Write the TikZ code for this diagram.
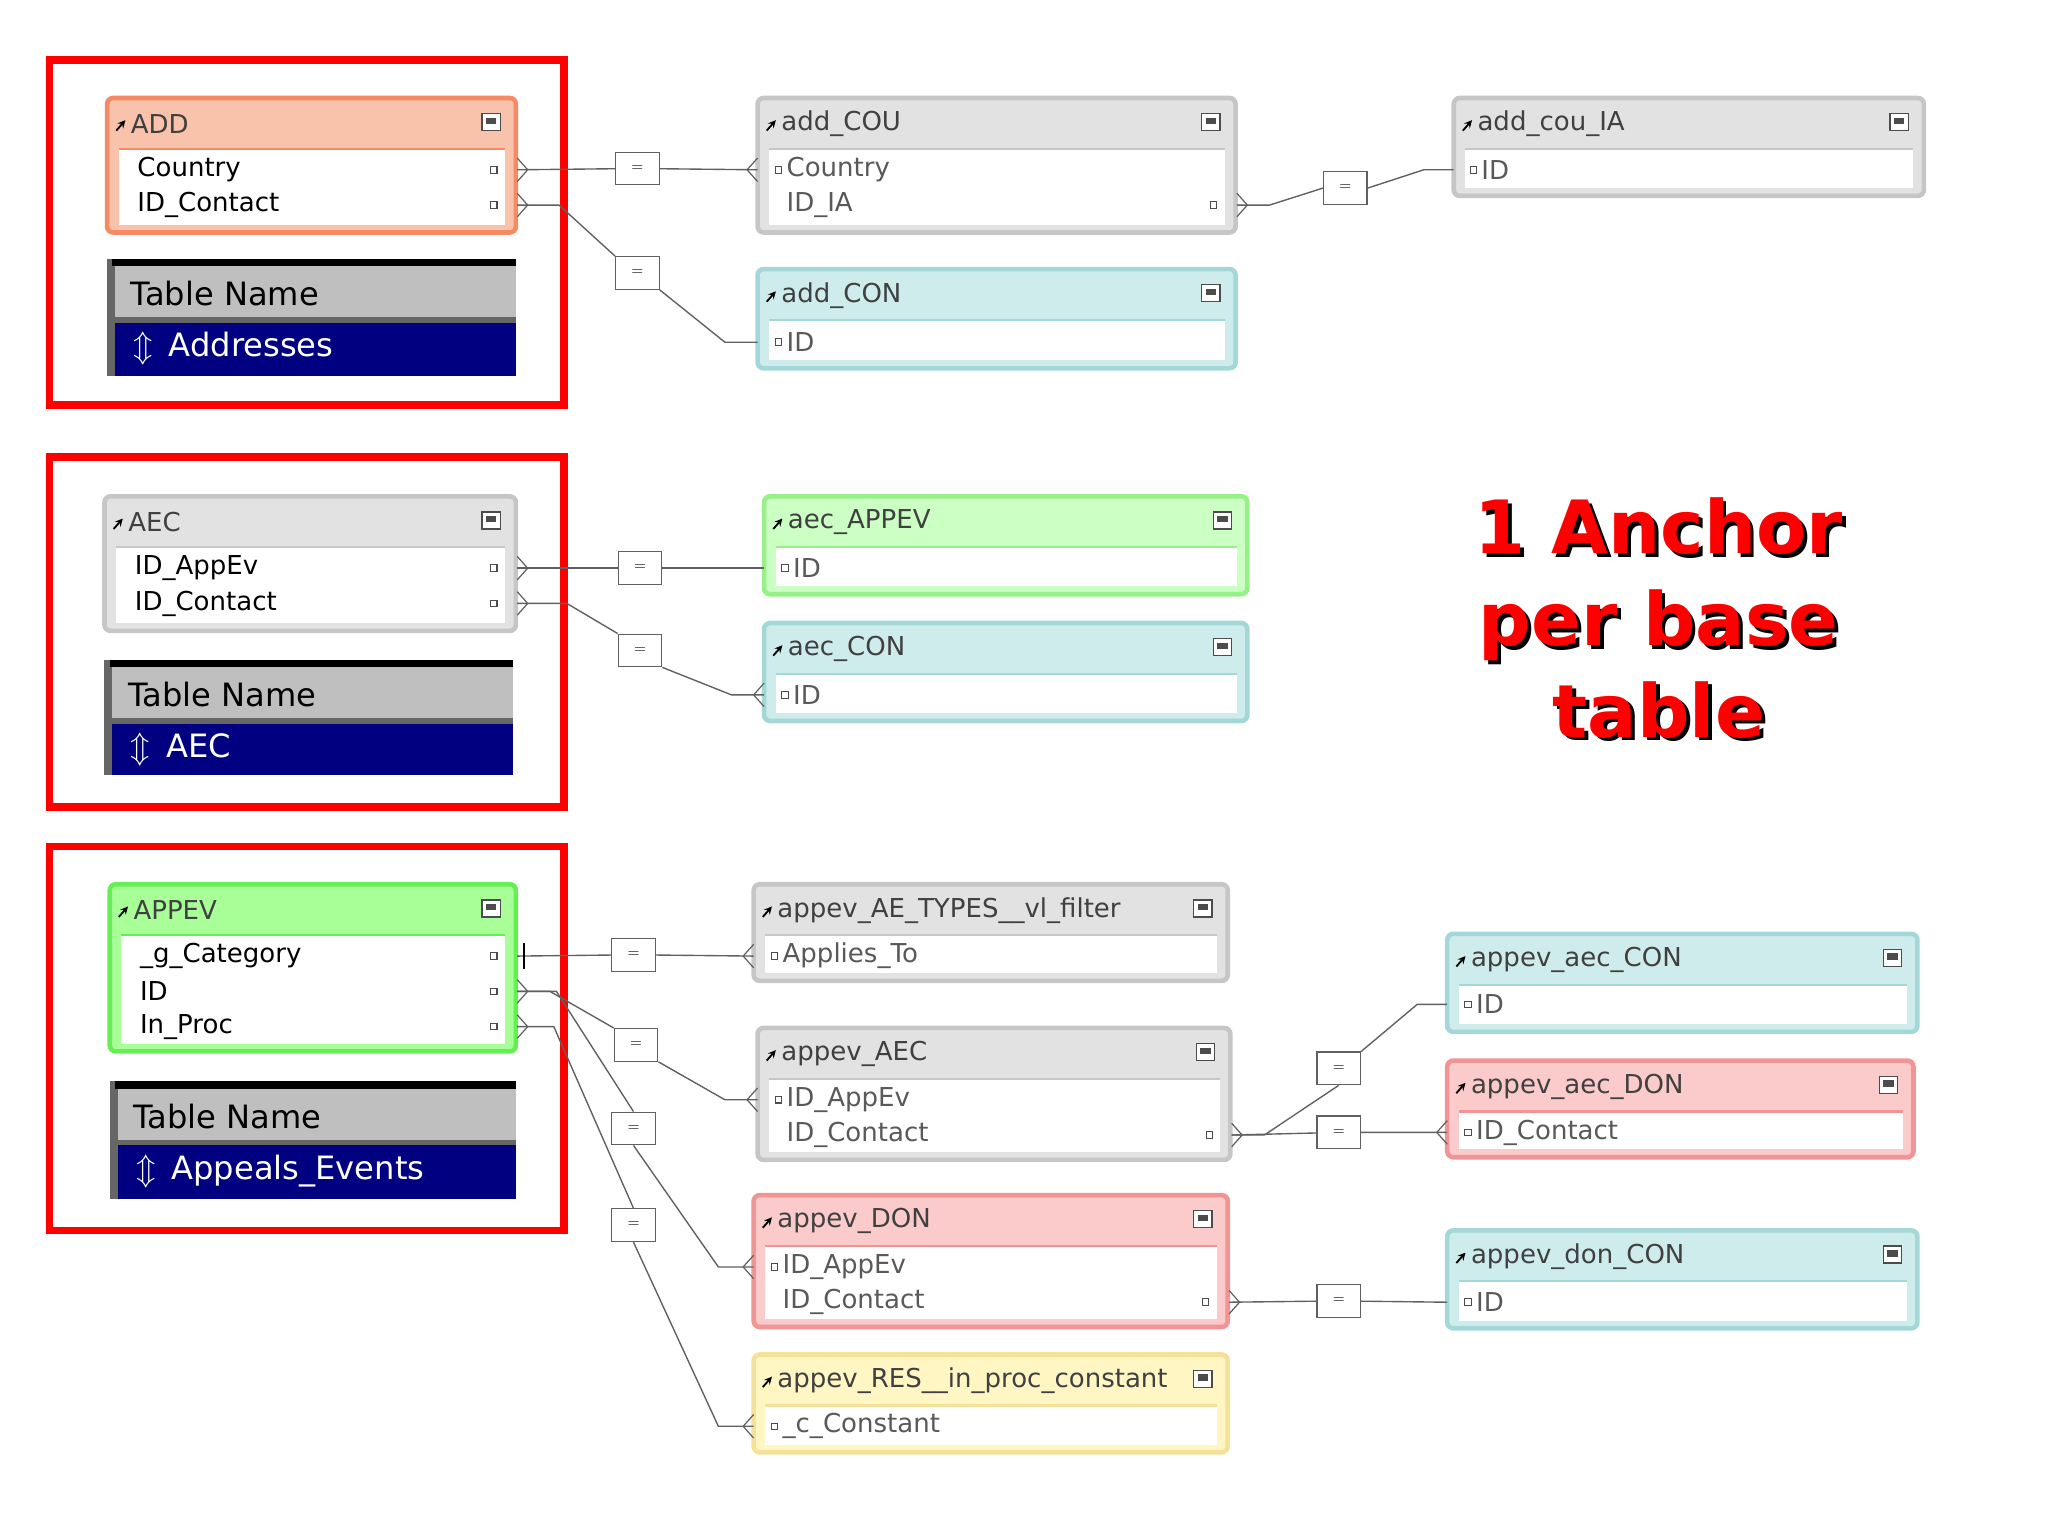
\documentclass[tikz,border=0pt]{standalone}
\usepackage{fontspec}
\setmainfont{DejaVu Sans}
\usetikzlibrary{fit,calc}
\definecolor{hSal}{HTML}{F9C2AA}\definecolor{bSal}{HTML}{F58A64}
\definecolor{hGry}{HTML}{E2E2E2}\definecolor{bGry}{HTML}{C6C6C6}
\definecolor{hTea}{HTML}{CFECEC}\definecolor{bTea}{HTML}{A4D8D8}
\definecolor{hGrn}{HTML}{CCFFC4}\definecolor{bGrn}{HTML}{98F088}
\definecolor{hGrB}{HTML}{A8FF98}\definecolor{bGrB}{HTML}{66EE55}
\definecolor{hPnk}{HTML}{FBCACA}\definecolor{bPnk}{HTML}{F09494}
\definecolor{hYel}{HTML}{FFF6C4}\definecolor{bYel}{HTML}{F4E29A}
\definecolor{navy}{HTML}{000080}\definecolor{lnk}{HTML}{606060}
\tikzset{
 tblbox/.style={inner sep=0pt,rounded corners=4pt,line width=3pt},
 ttl/.style={anchor=west,inner sep=0pt,font=\fontsize{17}{20}\selectfont,text=black!75},
 fldL/.style={anchor=west,inner sep=0pt,font=\fontsize{17}{20}\selectfont},
 fldR/.style={anchor=west,inner sep=0pt,font=\fontsize{17}{20}\selectfont,text=black!65},
 eqbox/.style={draw=lnk,fill=white,minimum width=1cm,minimum height=0.75cm,inner sep=0pt,line width=0.8pt},
 link/.style={draw=lnk,line width=0.9pt},
 redbox/.style={draw=red,line width=5pt},
}
% table: name, x1,y1,x2,y2, head colour, border colour, title
\newcommand\tbl[8]{%
 \node[tblbox,fill=#6,draw=#7,fit={(#2,#3) (#4,#5)}] (#1) {};
 \fill[white] (#2+9,#3+39) rectangle (#4-8,#5-6);
 \draw[#7,line width=1.5pt] (#2+9,#3+39) -- (#4-8,#3+39);
 \node[ttl] (#1t) at (#2+18,#3+20) {#8};
 \draw[black,line width=1.2pt,-stealth] (#2+7,#3+25) -- (#2+14,#3+17);
 \draw[black!70,fill=white,line width=0.8pt] (#4-26,#3+12) rectangle (#4-12,#3+25);
 \fill[black!70] (#4-23,#3+15) rectangle (#4-15,#3+20);
}
\newcommand\sq[2]{\draw[black!70,line width=0.7pt] (#1-2.5,#2-2.5) rectangle (#1+2.5,#2+2.5);}
\newcommand\tname[5]{% x1,y1,x2,y2,text
 \fill[black!60] (#1,#2) rectangle (#3,#4);
 \fill[black] (#1+4,#2) rectangle (#3,#2+6);
 \fill[black!25] (#1+6,#2+6) rectangle (#3,#2+45);
 \fill[navy] (#1+6,#2+49) rectangle (#3,#4);
 \node[anchor=west,inner sep=0pt,font=\fontsize{21}{24}\selectfont] at (#1+18,#2+27) {Table Name};
 \node[anchor=west,inner sep=0pt,font=\fontsize{21}{24}\selectfont,text=white] at (#1+20,#2+69) {$\Updownarrow$\hspace{0.5em}#5};
}
\begin{document}
\begin{tikzpicture}[x=0.03cm,y=-0.03cm]
\useasboundingbox (0,0) rectangle (1568,1176);
% red frames
\draw[redbox] (38,46) rectangle (432,310);
\draw[redbox] (38,350) rectangle (432,618);
\draw[redbox] (38,648) rectangle (432,942);
% ---------- tables
\tbl{ADD}{82}{75}{395}{178}{hSal}{bSal}{ADD}
\node[fldL] at (105,130) {Country}; \node[fldL] at (105,157) {ID\_Contact};
\sq{378}{130}\sq{378}{157}
\tname{82}{198}{395}{288}{Addresses}
\tbl{addCOU}{580}{75}{946}{178}{hGry}{bGry}{add\_COU}
\node[fldR] at (602,130) {Country}; \node[fldR] at (602,157) {ID\_IA}; \sq{596}{130}\sq{929}{157}
\tbl{addcouIA}{1113}{75}{1473}{150}{hGry}{bGry}{add\_cou\_IA}
\node[fldR] at (1134,130) {ID}; \sq{1128}{130}
\tbl{addCON}{580}{206}{946}{282}{hTea}{bTea}{add\_CON}
\node[fldR] at (602,262) {ID}; \sq{596}{262}

\tbl{AEC}{80}{380}{395}{483}{hGry}{bGry}{AEC}
\node[fldL] at (103,435) {ID\_AppEv}; \node[fldL] at (103,462) {ID\_Contact};
\sq{378}{435}\sq{378}{462}
\tname{80}{505}{393}{593}{AEC}
\tbl{aecAPPEV}{585}{380}{955}{455}{hGrn}{bGrn}{aec\_APPEV}
\node[fldR] at (607,435) {ID}; \sq{601}{435}
\tbl{aecCON}{585}{477}{955}{552}{hTea}{bTea}{aec\_CON}
\node[fldR] at (607,532) {ID}; \sq{601}{532}

\tbl{APPEV}{84}{677}{395}{805}{hGrB}{bGrB}{APPEV}
\node[fldL] at (107,732) {\_g\_Category}; \node[fldL] at (107,759) {ID}; \node[fldL] at (107,786) {In\_Proc};
\sq{378}{732}\sq{378}{759}\sq{378}{786}
\tname{84}{828}{395}{918}{Appeals\_Events}
\tbl{aeTypes}{577}{677}{940}{751}{hGry}{bGry}{appev\_AE\_TYPES\_\_vl\_filter}
\node[fldR] at (599,732) {Applies\_To}; \sq{593}{732}
\tbl{appevAEC}{580}{787}{942}{888}{hGry}{bGry}{appev\_AEC}
\node[fldR] at (602,842) {ID\_AppEv}; \node[fldR] at (602,869) {ID\_Contact}; \sq{596}{842}\sq{926}{869}
\tbl{appevDON}{577}{915}{940}{1016}{hPnk}{bPnk}{appev\_DON}
\node[fldR] at (599,970) {ID\_AppEv}; \node[fldR] at (599,997) {ID\_Contact}; \sq{593}{970}\sq{923}{997}
\tbl{appevRES}{577}{1037}{940}{1112}{hYel}{bYel}{appev\_RES\_\_in\_proc\_constant}
\node[fldR] at (599,1092) {\_c\_Constant}; \sq{593}{1092}
\tbl{aecCON2}{1108}{715}{1468}{790}{hTea}{bTea}{appev\_aec\_CON}
\node[fldR] at (1130,769) {ID}; \sq{1124}{769}
\tbl{aecDON}{1108}{812}{1465}{886}{hPnk}{bPnk}{appev\_aec\_DON}
\node[fldR] at (1130,867) {ID\_Contact}; \sq{1124}{867}
\tbl{donCON}{1108}{942}{1468}{1017}{hTea}{bTea}{appev\_don\_CON}
\node[fldR] at (1130,997) {ID}; \sq{1124}{997}
% ---------- link anchor coordinates
\coordinate (s1) at (396,130); \coordinate (t1) at (580,130);
\coordinate (s2) at (396,157); \coordinate (t2) at (580,262);
\coordinate (s3) at (947,157); \coordinate (t3) at (1113,130);
\coordinate (s4) at (396,435); \coordinate (t4) at (585,435);
\coordinate (s5) at (396,462); \coordinate (t5) at (585,532);
\coordinate (s6) at (396,732); \coordinate (t6) at (577,732);
\coordinate (s7) at (396,759); \coordinate (t7) at (580,842);
\coordinate (s8) at (396,759); \coordinate (t8) at (577,970);
\coordinate (s9) at (396,786); \coordinate (t9) at (577,1092);
\coordinate (s10) at (943,869); \coordinate (t10) at (1108,769);
\coordinate (s11) at (943,869); \coordinate (t11) at (1108,867);
\coordinate (s12) at (941,997); \coordinate (t12) at (1108,997);
% eq boxes
\node[eqbox] (e1) at (488,129) {$=$};
\node[eqbox] (e2) at (488,209) {$=$};
\node[eqbox] (e3) at (1030,144) {$=$};
\node[eqbox] (e4) at (490,435) {$=$};
\node[eqbox] (e5) at (490,498) {$=$};
\node[eqbox] (e6) at (485,731) {$=$};
\node[eqbox] (e7) at (487,800) {$=$};
\node[eqbox] (e8) at (485,864) {$=$};
\node[eqbox] (e9) at (485,938) {$=$};
\node[eqbox] (e10) at (1025,818) {$=$};
\node[eqbox] (e11) at (1025,867) {$=$};
\node[eqbox] (e12) at (1025,996) {$=$};
% links
\path[link] (s1) -- (e1) -- (t1);
\path[link] (s2) -- ++(32,0) -- (e2.north west) (e2.south east) -- (555,262) -- (t2);
\path[link] (s3) -- ++(25,0) -- (e3.west) (e3.east) -- (1090,130) -- (t3);
\path[link] (s4) -- (e4) -- (t4);
\path[link] (s5) -- ++(38,0) -- (e5.north west) (e5.south east) -- (560,532) -- (t5);
\path[link] (s6) -- (e6) -- (t6);
\path[link] (s7) -- ++(25,0) -- (e7.north west) (e7.south east) -- (555,842) -- (t7);
\path[link] (s8) -- ++(30,0) -- (e8.north) (e8.south) -- (550,970) -- (t8);
\path[link] (s9) -- ++(28,0) -- (e9.north) (e9.south) -- (550,1092) -- (t9);
\path[link] (s10) -- ++(25,0) -- (e10.south) (e10.north east) -- (1085,769) -- (t10);
\path[link] (s11) -- (e11) -- (t11);
\path[link] (s12) -- (e12) -- (t12);
% crow's feet
\foreach \c in {s1,s2,s3,s4,s5,s7,s9,s10,s12}
  \draw[lnk,line width=0.8pt] ($(\c)+(0,-9)$) -- ($(\c)+(8,0)$) -- ($(\c)+(0,9)$);
\draw[black,line width=1.2pt] (401,722) -- (401,742);
\foreach \c in {t1,t5,t6,t7,t8,t9,t11}
  \draw[lnk,line width=0.8pt] ($(\c)+(0,-9)$) -- ($(\c)+(-8,0)$) -- ($(\c)+(0,9)$);
% big label
\node[align=center,font=\fontsize{48}{60}\selectfont\bfseries,text=black,inner sep=0pt] at (1273,476) {1 Anchor\\per base\\table};
\node[align=center,font=\fontsize{48}{60}\selectfont\bfseries,text=red,inner sep=0pt] (lbl) at (1270,473) {1 Anchor\\per base\\table};
\end{tikzpicture}
\end{document}
